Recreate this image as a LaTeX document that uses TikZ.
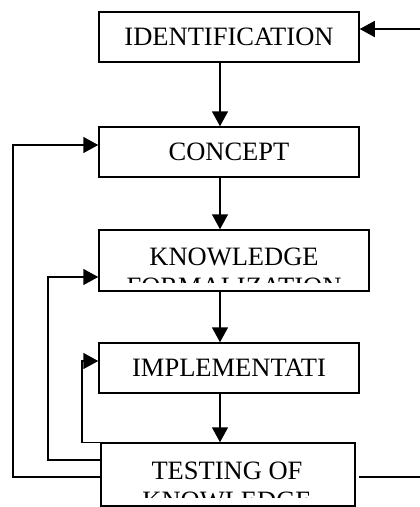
\documentclass[tikz,border=0pt]{standalone}
\usepackage{fontspec}
\setmainfont{Liberation Serif}
\usetikzlibrary{arrows.meta}
\begin{document}
\begin{tikzpicture}[x=1pt,y=-1pt,line width=1.5pt,draw=black!100]

	\def \spine{220}
	\tikzstyle{stage}=[draw,rectangle,inner sep=0pt,font=\fontsize{26.5}{30}\selectfont]
	\tikzstyle{stagetext}=[inner sep=0pt,align=center,anchor=base,font=\fontsize{26.5}{30}\selectfont]
	\tikzstyle{flow}=[-{Triangle[length=15pt,width=16pt]}]
	\useasboundingbox (0,0) rectangle (420,507);

	% stages
	\node[stage,minimum width=260pt,minimum height=50pt] (ident)   at (229,37)    {IDENTIFICATION};
	\node[stage,minimum width=260pt,minimum height=50pt] (concept) at (229,152)   {CONCEPT};
	\node[stage,minimum width=270pt,minimum height=61pt] (kf)      at (234,260.5) {};
	\node[stage,minimum width=260pt,minimum height=50pt] (impl)    at (229,368)   {IMPLEMENTATI};
	\node[stage,minimum width=254pt,minimum height=63pt] (test)    at (228,474.5) {};

	% clipped two-line labels (base = last line)
	\begin{scope}
		\clip (99,230) rectangle (369,282);
		\node[stagetext] (kftext) at (234,295) {KNOWLEDGE\\FORMALIZATION};
	\end{scope}
	\begin{scope}
		\clip (101,443) rectangle (355,497);
		\node[stagetext] (testtext) at (227,509) {TESTING OF\\KNOWLEDGE};
	\end{scope}

	% lanes and ends
	\coordinate (spine) at (\spine,0);
	\coordinate (laneA) at (13,0);
	\coordinate (laneB) at (48,0);
	\coordinate (laneC) at (82,0);
	\coordinate (rimtop) at (420,29);
	\coordinate (rimbot) at (420,477);
	\coordinate (inconcept) at ([yshift=7pt]concept.west);
	\coordinate (inkf) at ([yshift=-16.5pt]kf.west);
	\coordinate (inimpl) at ([yshift=7pt]impl.west);
	\coordinate (outA) at ([yshift=-2.5pt]test.west);
	\coordinate (outB) at ([yshift=14.5pt]test.west);

	% main flow
	\draw[flow] (ident.south -| spine) -- (concept.north -| spine);
	\draw[flow] (concept.south -| spine) -- (kf.north -| spine);
	\draw[flow] (kf.south -| spine) -- (impl.north -| spine);
	\draw[flow] (impl.south -| spine) -- (test.north -| spine);

	% feedback
	\draw[flow] (outA) -- (outA -| laneA) -- (laneA |- inconcept) -- (inconcept);
	\draw[flow] (outB) -- (outB -| laneB) -- (laneB |- inkf) -- (inkf);
	\draw[flow] (test.north west) -- (test.north west -| laneC) -- (laneC |- inimpl) -- (inimpl);
	\draw[flow] (rimtop) -- (ident.east |- rimtop);
	\draw ([xshift=3pt]test.east |- rimbot) -- (rimbot);
\end{tikzpicture}
\end{document}
